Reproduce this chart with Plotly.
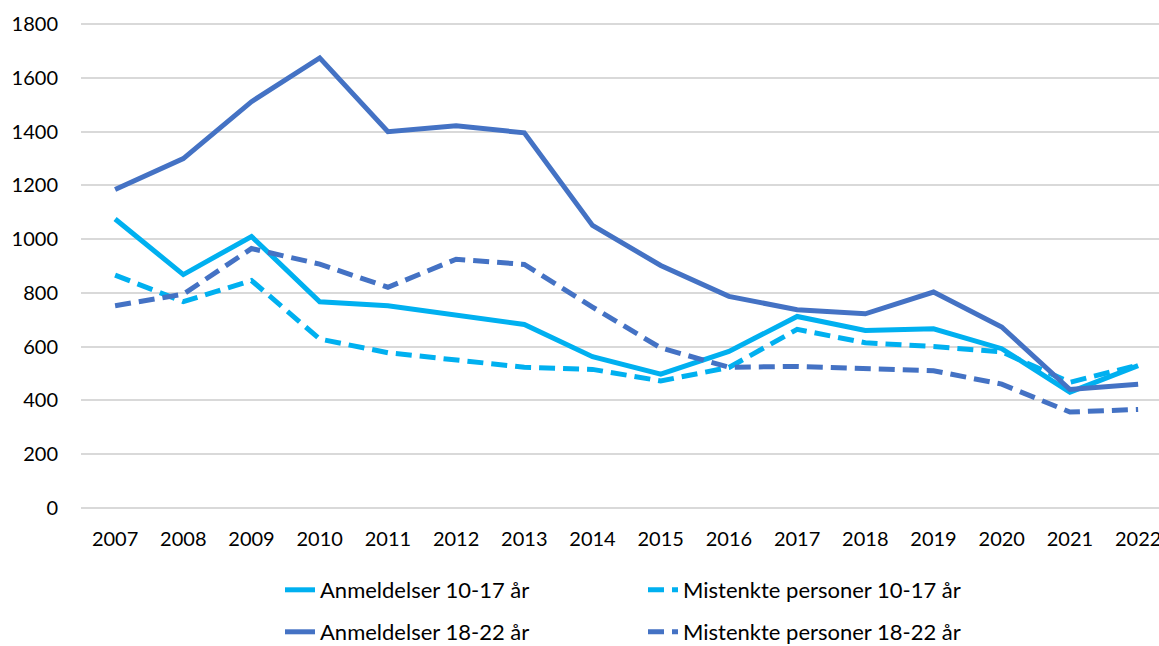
import plotly.graph_objects as go

years = ["2007", "2008", "2009", "2010", "2011", "2012", "2013", "2014",
         "2015", "2016", "2017", "2018", "2019", "2020", "2021", "2022"]

anm_10_17 = [1075, 868, 1010, 767, 752, 717, 682, 562, 497, 582, 712, 660, 666, 592, 430, 529]
mist_10_17 = [866, 767, 846, 628, 577, 552, 523, 515, 472, 522, 664, 614, 600, 580, 467, 531]
anm_18_22 = [1185, 1300, 1512, 1675, 1400, 1422, 1396, 1051, 902, 787, 737, 722, 803, 673, 440, 460]
mist_18_22 = [752, 795, 965, 907, 821, 925, 906, 747, 595, 523, 526, 520, 510, 460, 356, 366]

y_ticks = [0, 200, 400, 600, 800, 1000, 1200, 1400, 1600, 1800]

LIGHT = "#00B0F0"
DARK = "#4472C4"
FONT = "Lato"

fig = go.Figure()
fig.add_trace(go.Scatter(x=years, y=anm_10_17, mode="lines", name="Anmeldelser 10-17 år",
                         line=dict(color=LIGHT, width=5), legend="legend"))
fig.add_trace(go.Scatter(x=years, y=mist_10_17, mode="lines", name="Mistenkte personer 10-17 år",
                         line=dict(color=LIGHT, width=5, dash="16px,8px"), legend="legend"))
fig.add_trace(go.Scatter(x=years, y=anm_18_22, mode="lines", name="Anmeldelser 18-22 år",
                         line=dict(color=DARK, width=5), legend="legend2"))
fig.add_trace(go.Scatter(x=years, y=mist_18_22, mode="lines", name="Mistenkte personer 18-22 år",
                         line=dict(color=DARK, width=5, dash="16px,8px"), legend="legend2"))

H = 646
T, B = 23, 137
L, R = 81, 0
plot_h = H - T - B


def py(pix):
    return (H - B - pix) / plot_h


def px(pix):
    return (pix - L) / (1159 - L - R)


legend_common = dict(orientation="h", xanchor="left", yanchor="middle",
                     font=dict(family=FONT, size=22, color="#000000"),
                     bgcolor="rgba(0,0,0,0)", entrywidth=318, entrywidthmode="pixels",
                     itemwidth=30, traceorder="normal")

fig.update_layout(
    width=1159, height=H,
    margin=dict(l=L, r=R, t=T, b=B, pad=0, autoexpand=False),
    paper_bgcolor="white", plot_bgcolor="white",
    font=dict(family=FONT, size=20, color="#000000"),
    showlegend=True,
    legend=dict(x=px(280), y=py(590), **legend_common),
    legend2=dict(x=px(280), y=py(632), **legend_common),
    xaxis=dict(type="category", range=[-0.5, 15.306], showgrid=False, showline=False,
               ticks="", tickfont=dict(family=FONT, size=20, color="#000000"),
               ticklabelstandoff=16, fixedrange=True),
    yaxis=dict(range=[-5, 1805], tickvals=y_ticks, showgrid=True, gridcolor="#D9D9D9",
               gridwidth=1.5, zeroline=True, zerolinecolor="#D9D9D9", zerolinewidth=1.5,
               showline=False, ticks="", tickfont=dict(family=FONT, size=20, color="#000000"),
               ticklabelstandoff=22, fixedrange=True),
)

fig.write_html("out.html", include_plotlyjs=True, config={"displayModeBar": False},
               post_script="document.body.style.margin='0';document.body.style.overflow='hidden';")
